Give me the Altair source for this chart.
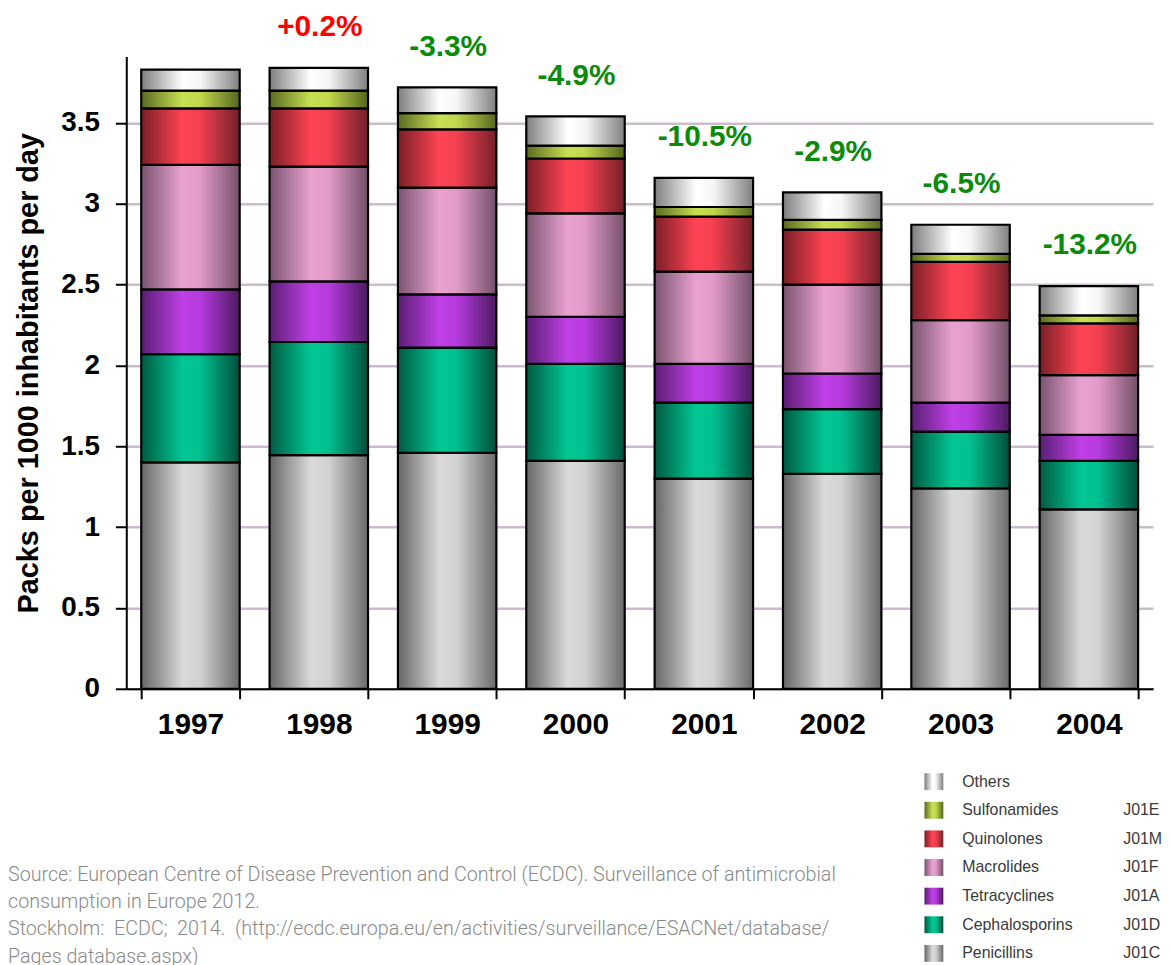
import altair as alt
import pandas as pd

years = ["1997", "1998", "1999", "2000", "2001", "2002", "2003", "2004"]
drugs = ["Penicillins", "Cephalosporins", "Tetracyclines", "Macrolides",
         "Quinolones", "Sulfonamides", "Others"]
codes = ["J01C", "J01D", "J01A", "J01F", "J01M", "J01E", ""]

penicillins    = [1.40, 1.445, 1.46, 1.41, 1.30, 1.33, 1.24, 1.11]
cephalosporins = [0.67, 0.70, 0.65, 0.60, 0.47, 0.40, 0.35, 0.30]
tetracyclines  = [0.40, 0.375, 0.33, 0.29, 0.24, 0.22, 0.18, 0.16]
macrolides     = [0.77, 0.71, 0.66, 0.64, 0.57, 0.55, 0.51, 0.37]
quinolones     = [0.35, 0.36, 0.36, 0.34, 0.34, 0.34, 0.36, 0.32]
sulfonamides   = [0.11, 0.11, 0.10, 0.08, 0.06, 0.06, 0.05, 0.05]
others         = [0.13, 0.14, 0.16, 0.18, 0.18, 0.17, 0.18, 0.18]

pct_labels = ["", "+0.2%", "-3.3%", "-4.9%", "-10.5%", "-2.9%", "-6.5%", "-13.2%"]
pct_colors = ["#0b8a0b", "#ff0000", "#0b8a0b", "#0b8a0b", "#0b8a0b", "#0b8a0b", "#0b8a0b", "#0b8a0b"]

NB = "\u00a0"
source_lines = [
    "Source: European Centre of Disease Prevention and Control (ECDC). Surveillance of antimicrobial",
    "consumption in Europe 2012.",
    f"Stockholm:{NB} ECDC;{NB} 2014.{NB} (http://ecdc.europa.eu/en/activities/surveillance/ESACNet/database/",
    "Pages database.aspx)",
]

# gradient colours (left dark, centre light, right dark)
grad_cols = {
    "Penicillins":    ("#666666", "#dadada", "#d2d2d2", "#6a6a6a"),
    "Cephalosporins": ("#005a42", "#00c894", "#00c090", "#004e3a"),
    "Tetracyclines":  ("#5a1e74", "#c040e6", "#b63ade", "#4c1a60"),
    "Macrolides":     ("#7a5470", "#eaa2d0", "#e29ac8", "#74506a"),
    "Quinolones":     ("#7a1e26", "#ff4454", "#f24050", "#72202a"),
    "Sulfonamides":   ("#5a6a20", "#c8e052", "#c0d84c", "#55661e"),
    "Others":         ("#7e7e7e", "#ffffff", "#f6f6f6", "#808080"),
}


def grad(name):
    a, b, c, d = grad_cols[name]
    return {"gradient": "linear", "x1": 0, "x2": 1, "y1": 0, "y2": 0,
            "stops": [{"offset": 0, "color": a}, {"offset": 0.42, "color": b},
                      {"offset": 0.6, "color": c}, {"offset": 1, "color": d}]}


def fill_def():
    conds = [{"test": f"datum.drug === '{d}'", "value": grad(d)} for d in drugs[:-1]]
    return alt.value(grad(drugs[-1]), condition=conds)


series = [penicillins, cephalosporins, tetracyclines, macrolides, quinolones, sulfonamides, others]
rows = []
for di, (d, vals) in enumerate(zip(drugs, series)):
    for y, v in zip(years, vals):
        rows.append({"year": y, "drug": d, "idx": di, "value": v})
df = pd.DataFrame(rows)
lab_df = pd.DataFrame({"year": years, "pct": pct_labels, "col": pct_colors})

FONT = "Liberation Sans"
W, H = 1033, 636

xenc = alt.X("year:N", title=None, sort=years,
             scale=alt.Scale(paddingInner=0.233, paddingOuter=0.1165),
             axis=alt.Axis(labelAngle=0, labelFontSize=30, labelFontWeight="bold",
                           labelFont=FONT, labelColor="#000", labelPadding=11,
                           tickBand="extent", tickSize=10, tickWidth=2, tickColor="#000",
                           domainColor="#000", domainWidth=2, grid=False))

bars = alt.Chart(df).mark_bar(stroke="#000", strokeWidth=2.2).encode(
    x=xenc,
    y=alt.Y("value:Q", stack="zero",
            scale=alt.Scale(domain=[0, 3.91], nice=False, zero=True),
            axis=alt.Axis(values=[0, 0.5, 1, 1.5, 2, 2.5, 3, 3.5], format="~g",
                          labelFontSize=28, labelFontWeight="bold", labelFont=FONT,
                          labelColor="#000", labelPadding=16, tickSize=11, tickWidth=2,
                          tickColor="#000", domainColor="#000", domainWidth=2,
                          gridColor="#c9bdcb", gridWidth=2.5,
                          title="Packs per 1000 inhabitants per day", titleFont=FONT,
                          titleFontSize=29, titleFontWeight="bold", titleColor="#000",
                          titlePadding=17)),
    fill=fill_def(),
    order=alt.Order("idx:Q", sort="ascending"),
)

labels = alt.Chart(df).transform_aggregate(
    total="sum(value)", groupby=["year"]
).transform_lookup(
    lookup="year", from_=alt.LookupData(lab_df, "year", ["pct", "col"])
).transform_filter("datum.pct != ''").mark_text(
    fontSize=30, fontWeight="bold", font=FONT, baseline="middle", dy=-41, dx=1
).encode(
    x=alt.X("year:N", sort=years),
    y=alt.Y("total:Q"),
    text="pct:N",
    color=alt.Color("col:N", scale=None),
)

main = alt.layer(bars, labels).properties(width=W, height=H)

# ---- bottom: source + legend ----
leg_df = pd.DataFrame({"drug": drugs, "code": codes, "idx": list(range(len(drugs)))})
leg_order = drugs[::-1]
leg_y = alt.Y("drug:N", sort=leg_order, axis=None,
              scale=alt.Scale(domain=leg_order, range=[0, 201.6], paddingInner=0.4, paddingOuter=0.2))

sw = alt.Chart(leg_df).mark_bar(size=17).encode(
    x=alt.value(803), x2=alt.value(822), y=leg_y, fill=fill_def())
names = alt.Chart(leg_df).mark_text(align="left", baseline="middle", fontSize=16,
                                      font=FONT, color="#3a3a3a").encode(
    x=alt.value(841), y=leg_y, text="drug:N")
codes_t = alt.Chart(leg_df).mark_text(align="left", baseline="middle", fontSize=16,
                                        font=FONT, color="#3a3a3a").encode(
    x=alt.value(1003), y=leg_y, text="code:N")

src_df = pd.DataFrame({"line": list(range(len(source_lines))), "text": source_lines})
src = alt.Chart(src_df).mark_text(align="left", baseline="middle", fontSize=19.8,
                                   font="Roboto", fontWeight=300, color="#8a8a8a").encode(
    x=alt.value(-119),
    y=alt.Y("line:O", axis=None, scale=alt.Scale(type="point", domain=[0, 1, 2, 3],
                                                  range=[108.4, 190.4], padding=0)),
    text="text:N",
)

bottom = alt.layer(src, sw, names, codes_t).resolve_scale(y="independent").properties(
    width=W, height=190)

chart = alt.vconcat(main, bottom, spacing=28).properties(
    padding={"left": 0, "top": 1, "right": 0, "bottom": 0},
    background="#ffffff",
).configure_view(strokeWidth=0, stroke="transparent")

chart.save("out.html", embed_options={"renderer": "svg", "actions": False})
